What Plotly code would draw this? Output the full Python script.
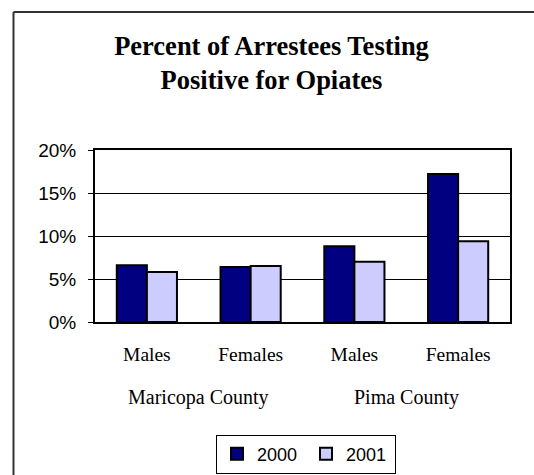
import plotly.graph_objects as go

# ---- data ----
category_ids = ["Maricopa Males", "Maricopa Females", "Pima Males", "Pima Females"]
category_labels = ["Males", "Females", "Males", "Females"]
groups = ["Maricopa County", "Pima County"]
series_names = ["2000", "2001"]
values_2000 = [6.6, 6.4, 8.8, 17.2]
values_2001 = [5.8, 6.5, 7.0, 9.4]
y_ticks = [0, 5, 10, 15, 20]

W, H = 534, 475
PL, PR, PT, PB = 95, 510, 150, 322          # plot area in pixels
L, R, T, B = PL, W - PR, PT, H - PB
pw, ph = PR - PL, PB - PT

def px_x(sx):
    return (sx - PL) / pw

def px_y(sy):
    return (PB - sy) / ph

fig = go.Figure()
fig.add_trace(go.Bar(
    x=category_ids, y=values_2000, name=series_names[0],
    marker=dict(color="#000080", line=dict(color="black", width=2)),
))
fig.add_trace(go.Bar(
    x=category_ids, y=values_2001, name=series_names[1],
    marker=dict(color="#CCCCFF", line=dict(color="black", width=2)),
))

serif = "Liberation Serif, Times New Roman, serif"
sans = "Liberation Sans, Arial, sans-serif"

fig.update_layout(
    width=W, height=H,
    margin=dict(l=L, r=R, t=T, b=B, autoexpand=False),
    paper_bgcolor="white", plot_bgcolor="white",
    barmode="group", bargap=0.42, bargroupgap=0,
    title=dict(
        text="<b>Percent of Arrestees Testing<br>Positive for Opiates</b>",
        font=dict(family=serif, size=26.5, color="black"),
        x=271.5 / W, xref="container", xanchor="center",
        y=1 - 55 / H, yref="container", yanchor="top",
    ),
    showlegend=True,
    legend=dict(
        orientation="h", x=px_x(306), xanchor="center",
        y=px_y(473.5), yanchor="bottom",
        bordercolor="black", borderwidth=1,
        font=dict(family=sans, size=18, color="black"),
        itemwidth=30, entrywidth=44, traceorder="normal",
    ),
    xaxis=dict(
        type="category",
        tickmode="array", tickvals=category_ids, ticktext=category_labels,
        tickfont=dict(family=serif, size=19.5, color="black"),
        showline=True, linecolor="black", linewidth=2, mirror=True,
        ticks="", showgrid=False, ticklabelstandoff=14,
    ),
    yaxis=dict(
        range=[0, 20], tickmode="array", tickvals=y_ticks,
        ticktext=[f"{v}%" for v in y_ticks],
        tickfont=dict(family=sans, size=19, color="black"),
        showline=True, linecolor="black", linewidth=2, mirror=True,
        ticks="outside", ticklen=5, tickcolor="black", tickwidth=1,
        showgrid=True, gridcolor="black", gridwidth=1,
        zeroline=False, ticklabelstandoff=8,
    ),
)

# group labels below the category labels
for i, g in enumerate(groups):
    fig.add_annotation(
        x=2 * i + 0.5, xref="x", y=px_y(397), yref="paper",
        text=g, showarrow=False, xanchor="center", yanchor="middle",
        font=dict(family=serif, size=20, color="black"),
    )

# outer chart frame (only top and left edges fall inside the picture)
fx, fy = px_x(13.5), px_y(12)
fig.add_shape(type="line", xref="paper", yref="paper",
              x0=fx, y0=fy, x1=px_x(W + 10), y1=fy,
              line=dict(color="#333333", width=2))
fig.add_shape(type="line", xref="paper", yref="paper",
              x0=fx, y0=fy, x1=fx, y1=px_y(H + 10),
              line=dict(color="#333333", width=2))

fig.write_html(
    "out.html",
    config={"displayModeBar": False},
    post_script="document.body.style.margin='0px';document.body.style.overflow='hidden';",
)
